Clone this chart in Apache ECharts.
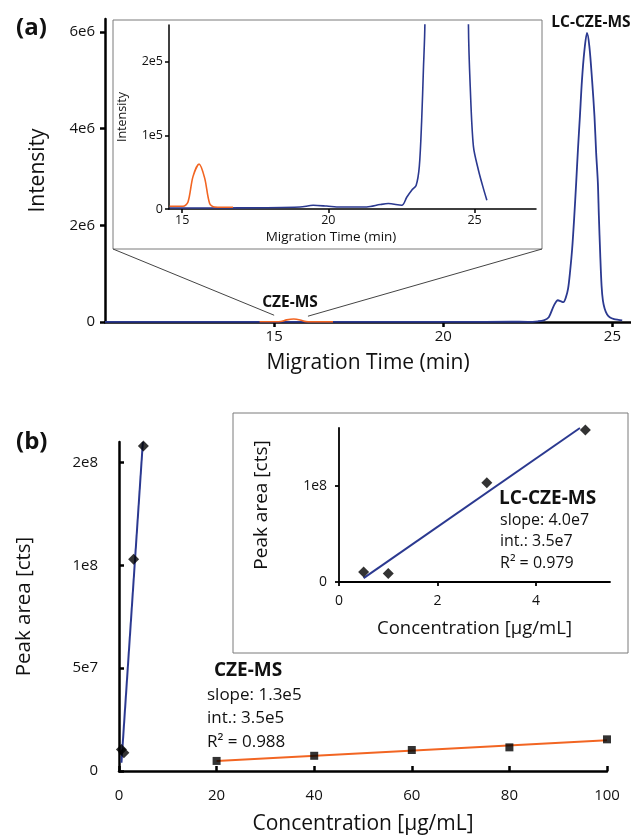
<!DOCTYPE html>
<html>
<head>
<meta charset="utf-8">
<script src="https://cdn.jsdelivr.net/npm/echarts@6/dist/echarts.min.js"></script>
<style>
  html, body { margin: 0; padding: 0; background: #fff; }
  #chart { width: 631px; height: 838px; }
</style>
</head>
<body>
<div id="chart"></div>
<script>
// (a) electropherograms: [migration time (min), intensity]
const lcCzeTrace = [
  [10.0, 2e3], [12.0, 2e3], [14.0, 2e3], [16.0, 2e3], [18.0, 2e3], [19.5, 4e3], [20.5, 3e3],
  [22.0, 6e3], [22.5, 4e3], [22.8, 1.5e4], [22.97, 3.5e4], [23.12, 1e5], [23.27, 3.4e5],
  [23.39, 4.5e5], [23.47, 4.3e5], [23.55, 4.1e5], [23.62, 5e5], [23.69, 6.9e5], [23.75, 1.05e6],
  [23.81, 1.51e6], [23.87, 2.15e6], [23.93, 2.89e6], [23.98, 3.55e6], [24.04, 4.26e6],
  [24.1, 5.0e6], [24.17, 5.6e6], [24.25, 5.98e6], [24.32, 5.7e6], [24.4, 5.0e6], [24.47, 4.26e6],
  [24.52, 3.5e6], [24.57, 2.89e6], [24.6, 2.2e6], [24.64, 1.4e6], [24.68, 7.5e5], [24.72, 4.4e5],
  [24.77, 2.8e5], [24.84, 1.6e5], [24.92, 1e5], [25.05, 6e4], [25.18, 4.5e4], [25.29, 3.5e4]
];
const lcCzeInsetTrace = [
  [14.57, 1.4e3], [17.0, 1.5e3], [19.03, 2.7e3], [19.48, 5e3], [19.94, 4e3], [20.4, 2.7e3],
  [21.31, 2.7e3], [21.77, 6e3], [22.05, 7.4e3], [22.51, 5e3], [22.68, 1.6e4], [22.85, 2.56e4],
  [23.0, 3.2e4], [23.11, 5.8e4], [23.19, 1.2e5], [23.25, 1.9e5], [23.3, 2.5e5], [23.36, 6e5],
  [24.74, 6e5], [24.79, 2.5e5], [24.85, 1.67e5], [24.96, 8.5e4], [25.13, 5.3e4], [25.3, 2.8e4],
  [25.42, 1.2e4]
];
const czeTrace = [
  [14.57, 3.7e3], [15.03, 3.7e3], [15.2, 9.6e3], [15.37, 4.4e4], [15.58, 6.1e4], [15.77, 4.2e4],
  [15.94, 7.4e3], [16.11, 2.8e3], [16.74, 2.3e3]
];
const zoomAnchors = [[15.0, 1.4e5], [16.0, 1.2e5]];

// (b) calibration: [concentration (ug/mL), peak area]
const lcCzePoints = [[0.5, 1.04e7], [1, 8.9e6], [3, 1.03e8], [5, 1.58e8]];
const lcCzeFit = [[0.5, 4e6], [4.89, 1.6e8]];
const czePoints = [[20, 4.9e6], [40, 7.4e6], [60, 1.02e7], [80, 1.15e7], [100, 1.54e7]];
const czeFit = [[20, 4.9e6], [100, 1.5e7]];

// tick values and labels
const aYTicks = [0, 2e6, 4e6, 6e6];
const aYLabels = ['0', '2e6', '4e6', '6e6'];
const aXTicks = [15, 20, 25];
const aInsetYTicks = [0, 1e5, 2e5];
const aInsetYLabels = ['0', '1e5', '2e5'];
const bXTicks = [0, 20, 40, 60, 80, 100];
const bYTicks = [0, 5e7, 1e8, 1.5e8];
const bYLabels = ['0', '5e7', '1e8', '2e8'];
const bInsetXTicks = [0, 2, 4];
const bInsetYTicks = [0, 1e8];
const bInsetYLabels = ['0', '1e8'];

const FONT = 'Open Sans';
const BLUE = '#2b3990';
const ORANGE = '#f26522';

const chart = echarts.init(document.getElementById('chart'));

function lookup(ticks, labels) {
  return function (v) {
    const i = ticks.findIndex(t => Math.abs(t - v) < 1e-6 * (Math.abs(t) + 1));
    return i < 0 ? '' : labels[i];
  };
}

function axis(o) {
  return {
    type: 'value',
    gridIndex: o.grid,
    min: o.min,
    max: o.max,
    name: o.name,
    nameLocation: 'middle',
    nameGap: o.nameGap,
    nameTextStyle: Object.assign({ fontFamily: FONT, fontSize: o.nameSize, color: '#111' }, o.nameStyle || {}),
    splitLine: { show: false },
    axisLine: { show: true, onZero: false, lineStyle: { color: '#000', width: o.lw } },
    axisTick: {
      show: true, inside: !!o.inside, length: o.tickLen || 5,
      lineStyle: { color: '#000', width: o.lw },
      customValues: o.ticks
    },
    axisLabel: {
      show: !o.noLabel,
      fontFamily: FONT, fontSize: o.labelSize, color: '#111', margin: o.margin,
      customValues: o.ticks,
      formatter: o.labels ? lookup(o.ticks, o.labels) : undefined,
      showMinLabel: true, showMaxLabel: true
    }
  };
}

const option = {
  animation: false,
  backgroundColor: '#fff',
  grid: [
    { left: 105, top: 19, width: 526, height: 303, outerBoundsMode: 'none' },
    { left: 169, top: 25, width: 367, height: 184, outerBoundsMode: 'none' },
    { left: 119, top: 442, width: 488, height: 329, outerBoundsMode: 'none' },
    { left: 339, top: 428, width: 271, height: 154, outerBoundsMode: 'none' }
  ],
  xAxis: [
    axis({ grid: 0, min: 10, max: 25.55, ticks: aXTicks, name: 'Migration Time (min)', nameGap: 31, nameSize: 21, labelSize: 15, margin: 7, lw: 2.5 }),
    axis({ grid: 1, min: 14.55, max: 27.1, ticks: aXTicks, name: 'Migration Time (min)', nameGap: 21, nameSize: 13.5, labelSize: 12.5, margin: 5, lw: 1.5, tickLen: 4,
           nameStyle: { padding: [0, 43, 0, 0] } }),
    axis({ grid: 2, min: 0, max: 100, ticks: bXTicks, name: 'Concentration [µg/mL]', nameGap: 43, nameSize: 21, labelSize: 15, margin: 17, lw: 2.5, inside: true }),
    axis({ grid: 3, min: 0, max: 5.5, ticks: bInsetXTicks, name: 'Concentration [µg/mL]', nameGap: 37, nameSize: 18.5, labelSize: 14, margin: 12, lw: 1.8, tickLen: 4 })
  ],
  yAxis: [
    axis({ grid: 0, min: 0, max: 6.27e6, ticks: aYTicks, labels: aYLabels, name: 'Intensity', nameGap: 56, nameSize: 21, labelSize: 15, margin: 10, lw: 2.5 }),
    axis({ grid: 1, min: 0, max: 2.5e5, ticks: aInsetYTicks, labels: aInsetYLabels, name: 'Intensity', nameGap: 40, nameSize: 12.5, labelSize: 12.5, margin: 6, lw: 1.5, tickLen: 4 }),
    // (b) main: labels are placed below from bYTicks / bYLabels through this axis
    axis({ grid: 2, min: 0, max: 1.6e8, ticks: bYTicks, name: 'Peak area [cts]', nameGap: 84, nameSize: 20.5, labelSize: 15, margin: 21, lw: 2.5, inside: true, noLabel: true }),
    axis({ grid: 3, min: 0, max: 1.6e8, ticks: bInsetYTicks, labels: bInsetYLabels, name: 'Peak area [cts]', nameGap: 68, nameSize: 19, labelSize: 14, margin: 12, lw: 1.8, tickLen: 4 })
  ],
  series: [
    { type: 'line', xAxisIndex: 0, yAxisIndex: 0, data: czeTrace, showSymbol: false, smooth: 0.3,
      lineStyle: { color: ORANGE, width: 1.6 }, z: 3 },
    { type: 'line', xAxisIndex: 0, yAxisIndex: 0, data: lcCzeTrace, showSymbol: false, smooth: 0.3,
      lineStyle: { color: BLUE, width: 1.8 }, z: 2 },
    { type: 'line', xAxisIndex: 1, yAxisIndex: 1, data: lcCzeInsetTrace, showSymbol: false, smooth: 0.3,
      lineStyle: { color: BLUE, width: 1.6 }, z: 2 },
    { type: 'line', xAxisIndex: 1, yAxisIndex: 1, data: czeTrace, showSymbol: false, smooth: 0.3,
      lineStyle: { color: ORANGE, width: 1.6 }, z: 3 },

    { type: 'line', xAxisIndex: 2, yAxisIndex: 2, data: lcCzeFit, showSymbol: false,
      lineStyle: { color: BLUE, width: 2 }, z: 2 },
    { type: 'scatter', xAxisIndex: 2, yAxisIndex: 2, data: lcCzePoints, symbol: 'diamond', symbolSize: 11,
      itemStyle: { color: '#000' }, z: 4 },
    { type: 'line', xAxisIndex: 2, yAxisIndex: 2, data: czeFit, showSymbol: false,
      lineStyle: { color: ORANGE, width: 2 }, z: 2 },
    { type: 'scatter', xAxisIndex: 2, yAxisIndex: 2, data: czePoints, symbol: 'rect', symbolSize: 8,
      itemStyle: { color: '#000' }, z: 4 },

    { type: 'line', xAxisIndex: 3, yAxisIndex: 3, data: lcCzeFit, showSymbol: false,
      lineStyle: { color: BLUE, width: 2 }, z: 2 },
    { type: 'scatter', xAxisIndex: 3, yAxisIndex: 3, data: lcCzePoints, symbol: 'diamond', symbolSize: 11,
      itemStyle: { color: '#000' }, z: 4 }
  ]
};
chart.setOption(option);

// inset frames, zoom guides and annotations
const boxA = { x: 113, y: 20, w: 429, h: 229 };
const boxB = { x: 233, y: 413, w: 395, h: 240 };
const pL = chart.convertToPixel({ gridIndex: 0 }, zoomAnchors[0]);
const pR = chart.convertToPixel({ gridIndex: 0 }, zoomAnchors[1]);

function txt(x, y, s, size, bold, align) {
  return { type: 'text', x: x, y: y, z: 10,
    style: { text: s, fontFamily: FONT, fontSize: size, fontWeight: bold ? 'bold' : 'normal',
      fill: '#111', textAlign: align || 'left', textVerticalAlign: 'middle' } };
}

// (b) y tick labels, positioned through the axis scale
const bAxisX = chart.convertToPixel({ gridIndex: 2 }, [0, 0])[0];
const bYLabelText = bYTicks.map((v, i) =>
  txt(bAxisX - 21, chart.convertToPixel({ gridIndex: 2 }, [0, v])[1], bYLabels[i], 15, false, 'right'));

chart.setOption({
  graphic: [
    { type: 'rect', shape: { x: boxA.x, y: boxA.y, width: boxA.w, height: boxA.h }, z: 0,
      style: { fill: 'none', stroke: '#7a7a7a', lineWidth: 1 } },
    { type: 'rect', shape: { x: boxB.x, y: boxB.y, width: boxB.w, height: boxB.h }, z: 0,
      style: { fill: 'none', stroke: '#7a7a7a', lineWidth: 1 } },
    { type: 'line', shape: { x1: boxA.x, y1: boxA.y + boxA.h, x2: pL[0], y2: pL[1] }, z: 0,
      style: { stroke: '#444', lineWidth: 1 } },
    { type: 'line', shape: { x1: boxA.x + boxA.w, y1: boxA.y + boxA.h, x2: pR[0], y2: pR[1] }, z: 0,
      style: { stroke: '#444', lineWidth: 1 } },
    txt(16, 28, '(a)', 24, true),
    txt(16, 442, '(b)', 24, true),
    txt(591, 23, 'LC-CZE-MS', 15.5, true, 'center'),
    txt(290, 303, 'CZE-MS', 15.5, true, 'center'),
    txt(214, 671, 'CZE-MS', 19, true),
    txt(207, 695, 'slope: 1.3e5', 17),
    txt(207, 718, 'int.: 3.5e5', 17),
    txt(207, 742, 'R² = 0.988', 17),
    txt(499, 499, 'LC-CZE-MS', 19, true),
    txt(500, 520, 'slope: 4.0e7', 16),
    txt(500, 541, 'int.: 3.5e7', 16),
    txt(500, 563, 'R² = 0.979', 16)
  ].concat(bYLabelText)
});
</script>
</body>
</html>
